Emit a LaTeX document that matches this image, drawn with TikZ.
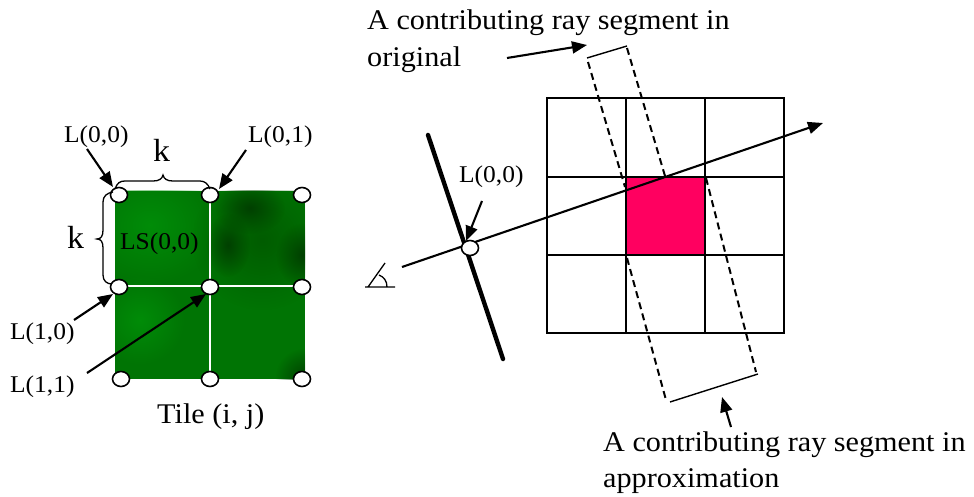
\documentclass[tikz,border=0pt]{standalone}
\usepackage{fontspec}
\setmainfont{Liberation Serif}[FakeStretch=1.06]
\usetikzlibrary{arrows.meta,fadings,shapes.geometric}
\tikzfading[name=blobfade,inner color=transparent!0,outer color=transparent!100]
\definecolor{tilegreen}{HTML}{007404}
\definecolor{brightgreen}{HTML}{008C08}
\definecolor{midgreen}{HTML}{005C00}
\definecolor{darkgreen}{HTML}{004000}
\definecolor{hotpink}{HTML}{FF0060}
\tikzset{
  x=1pt,y=-1pt,
  small/.style={font=\fontsize{24}{24}\selectfont,anchor=base west,inner sep=0pt,text=black},
  big/.style={font=\fontsize{28.5}{28.5}\selectfont,anchor=base west,inner sep=0pt,text=black},
  kay/.style={font=\fontsize{32}{32}\selectfont,anchor=base west,inner sep=0pt,text=black},
  lightpt/.style={ellipse,draw=black,fill=white,line width=1.6pt,minimum width=17pt,minimum height=15pt,inner sep=0pt},
  ptr/.style={-{Triangle[length=15pt,width=12pt]},line width=2.1pt},
  cell/.style={draw=black,line width=2.2pt},
  dashseg/.style={draw=black,line width=2pt,dash pattern=on 7pt off 4.5pt},
  segcap/.style={draw=black,line width=1.4pt},
  blob/.style={fill=#1,path fading=blobfade},
}
\begin{document}
\begin{tikzpicture}
\useasboundingbox (0,0) rectangle (974,497);
% tile
\begin{scope}
\clip (115,191) rectangle (305,379);
\fill[tilegreen] (115,191) rectangle (305,379);
\fill[blob=brightgreen] (150,225) ellipse (70 and 60);
\fill[blob=brightgreen] (140,320) circle (45);
\fill[blob=midgreen] (262,240) ellipse (70 and 70);
\fill[blob=darkgreen] (250,208) ellipse (35 and 26);
\fill[blob=darkgreen] (228,245) ellipse (22 and 32);
\fill[blob=darkgreen] (302,255) ellipse (26 and 32);
\fill[blob=darkgreen] (305,378) circle (30);
\end{scope}
\draw[white,line width=1.3pt] (210,195) -- (210,379) (119,286) -- (305,286);
% tile light points
\node[lightpt] (p00) at (119,195) {};
\node[lightpt] (p01) at (210,195) {};
\node[lightpt] (p02) at (302,195) {};
\node[lightpt] (p10) at (119,287) {};
\node[lightpt] (p11) at (210,287) {};
\node[lightpt] (p12) at (302,287) {};
\node[lightpt] (p20) at (121,379) {};
\node[lightpt] (p21) at (210,379) {};
\node[lightpt] (p22) at (302,379) {};
% braces
\draw[black,line width=1.3pt] (115,189) .. controls (117,183) and (120,181) .. (125,181) -- (153,181) .. controls (159,181) and (162,179) .. (163,175) .. controls (164,179) and (167,181) .. (173,181) -- (200,181) .. controls (205,181) and (208,184) .. (210,189);
\draw[black,line width=1.3pt] (113,192) .. controls (107,193) and (103,196) .. (103,202) -- (103,230) .. controls (103,236) and (101,239) .. (97,239) .. controls (101,239) and (103,242) .. (103,248) -- (103,275) .. controls (103,281) and (107,284) .. (112,284);
% labels left
\node[small] (l00) at (64,143) {L(0,0)};
\node[small] (l01) at (248,143) {L(0,1)};
\node[small] (l10) at (10,339) {L(1,0)};
\node[small] (l11) at (10,392) {L(1,1)};
\node[small] (ls) at (120,249) {LS(0,0)};
\node[kay] (k1) at (153,162) {k};
\node[kay] (k2) at (67,248) {k};
\node[big] (tile) at (157,423) {Tile (i, j)};
\coordinate (a00) at (87,149);
\coordinate (a01) at (246,150);
\coordinate (a10) at (74,320);
\coordinate (a11) at (87,373);
\draw[ptr] (a00) -- (113,187);
\draw[ptr] (a01) -- (219,189);
\draw[ptr] (a10) -- (113,294);
\draw[ptr] (a11) -- (206,294);
% grid
\fill[hotpink] (626,177) rectangle (705,255);
\draw[cell] (547,98) rectangle (784,333);
\draw[cell] (626,98) -- (626,333) (705,98) -- (705,333) (547,177) -- (784,177) (547,255) -- (784,255);
% dashed ray segments
\coordinate (o1) at (587,58);
\coordinate (o2) at (627,46);
\coordinate (b1) at (670,402);
\coordinate (b2) at (758,374);
\draw[segcap] (o1) -- (o2);
\draw[segcap] (b1) -- (b2);
\draw[dashseg] (588,62) -- (625,187);
\draw[dashseg] (627,48) -- (665,176);
\draw[dashseg] (627,258) -- (666,400);
\draw[dashseg] (706,178) -- (756,372);
% film plane and ray
\coordinate (f1) at (428,135);
\coordinate (f2) at (503,359);
\coordinate (r1) at (402,267);
\coordinate (r2) at (823,123);
\draw[black,line width=4.4pt,line cap=round] (f1) -- (f2);
\draw[-{Triangle[length=15pt,width=12pt]},black,line width=2.1pt] (r1) -- (r2);
\node[lightpt] (eyept) at (470,248) {};
\node[small] (rl) at (459,183) {L(0,0)};
\coordinate (ra) at (482,201);
\draw[ptr] (ra) -- (466,241);
% eye
\draw[black,line width=1.3pt] (365,287) -- (395,287) (385,263) -- (368,287) (379,275) .. controls (384,277) and (387,281) .. (387,287);
% right text
\node[big] (t1) at (367,30) {A contributing ray segment in};
\node[big] (t2) at (367,67) {original};
\node[big] (t3) at (603,451) {A contributing ray segment in};
\node[big] (t4) at (603,487) {approximation};
\coordinate (ta) at (507,58);
\coordinate (tb) at (731,427);
\draw[ptr] (ta) -- (587,45);
\draw[ptr] (tb) -- (722,397);
\end{tikzpicture}
\end{document}
